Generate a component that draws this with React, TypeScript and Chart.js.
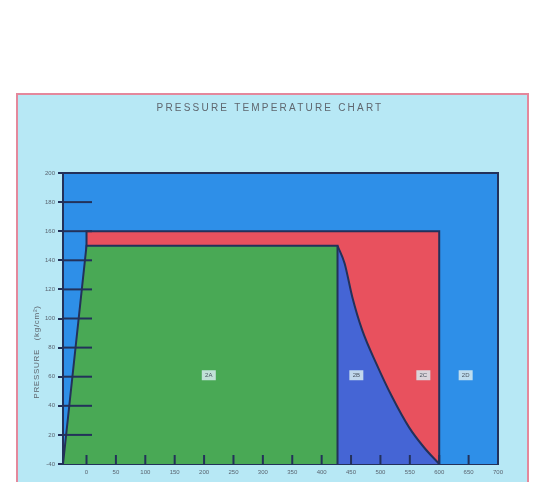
import React, { useEffect, useRef } from "react";
import { Chart, registerables } from "chart.js";

Chart.register(...registerables);

// ---- data ----
const chartTitle = "PRESSURE TEMPERATURE CHART";
const yAxisTitle = "PRESSURE   (kg/cm²)";
const xTickValues = [0, 50, 100, 150, 200, 250, 300, 350, 400, 450, 500, 550, 600, 650, 700];
const yTickValues = [0, 20, 40, 60, 80, 100, 120, 140, 160, 180, 200];
const yTickLabels = ["-40", "20", "40", "60", "80", "100", "120", "140", "160", "180", "200"];

// region outlines (temperature, pressure)
const region2DX = [-40, -40, 700, 700];
const region2DY = [0, 200, 200, 0];
const region2CX = [0, 0, 600, 600];
const region2CY = [0, 160, 160, 0];
const region2BX = [427, 439, 452, 469, 493, 520, 549, 575, 600];
const region2BY = [150, 138, 115, 92, 69, 46, 25, 11, 0];
const region2AX = [-40, 0, 427, 427];
const region2AY = [0, 150, 150, 0];

const regionNames = ["2A", "2B", "2C", "2D"];
const regionLabelX = [208, 459, 573, 645];
const regionLabelY = [61, 61, 61, 61];

const pts = (xs: number[], ys: number[]) => xs.map((x, i) => ({ x, y: ys[i] }));

const EDGE = "#23315a";
const FONT = "'Liberation Sans', Arial, sans-serif";

export default function App() {
  const ref = useRef<HTMLCanvasElement | null>(null);

  useEffect(() => {
    if (!ref.current) return;

    const decor = {
      id: "decor",
      afterDatasetsDraw(chart: any) {
        const { ctx, chartArea, scales } = chart;
        const xs = scales.x;
        const ys = scales.y;
        ctx.save();
        ctx.strokeStyle = EDGE;
        ctx.lineWidth = 2;
        for (const v of yTickValues) {
          if (v === 0 || v === 200) continue;
          const py = ys.getPixelForValue(v);
          ctx.beginPath();
          ctx.moveTo(chartArea.left, py);
          ctx.lineTo(chartArea.left + 29, py);
          ctx.stroke();
        }
        for (const v of xTickValues) {
          if (v >= 700) continue;
          const px = xs.getPixelForValue(v);
          ctx.beginPath();
          ctx.moveTo(px, chartArea.bottom);
          ctx.lineTo(px, chartArea.bottom - 9);
          ctx.stroke();
        }
        ctx.font = `6px ${FONT}`;
        ctx.textAlign = "center";
        ctx.textBaseline = "middle";
        regionNames.forEach((name, i) => {
          const px = xs.getPixelForValue(regionLabelX[i]);
          const py = ys.getPixelForValue(regionLabelY[i]);
          ctx.fillStyle = "rgba(215,235,240,0.85)";
          ctx.fillRect(px - 7, py - 5, 14, 10);
          ctx.fillStyle = "#4a5560";
          ctx.fillText(name, px, py);
        });
        ctx.restore();
      },
      afterDraw(chart: any) {
        const { ctx, chartArea } = chart;
        ctx.save();
        ctx.fillStyle = "#5f666e";
        ctx.font = `10px ${FONT}`;
        (ctx as any).letterSpacing = "2.2px";
        ctx.textAlign = "center";
        ctx.textBaseline = "middle";
        ctx.fillText(chartTitle, 270, 108);
        ctx.translate(37, chartArea.bottom - 112);
        ctx.rotate(-Math.PI / 2);
        ctx.font = `8px ${FONT}`;
        (ctx as any).letterSpacing = "0.7px";
        ctx.fillText(yAxisTitle, 0, 0);
        ctx.restore();
      },
    };

    const mk = (data: any[], color: string, order: number) => ({
      data,
      backgroundColor: color,
      borderColor: EDGE,
      borderWidth: 2,
      pointRadius: 0,
      fill: "origin",
      tension: 0,
      showLine: true,
      clip: 4,
      order,
    });

    const chart = new Chart(ref.current, {
      type: "scatter",
      data: {
        datasets: [
          mk(pts(region2AX, region2AY), "#49a955", 1),
          { ...mk(pts(region2BX, region2BY), "#4565d5", 2), cubicInterpolationMode: "monotone", tension: 0.4 },
          mk(pts(region2CX, region2CY), "#e8515e", 3),
          mk(pts(region2DX, region2DY), "#2e8fe8", 4),
        ] as any,
      },
      options: {
        animation: false,
        responsive: false,
        events: [],
        layout: { padding: { left: 0, right: 41, top: 173, bottom: 0 } },
        plugins: { legend: { display: false }, tooltip: { enabled: false }, title: { display: false } },
        scales: {
          x: {
            type: "linear",
            min: -40,
            max: 700,
            afterBuildTicks: (s: any) => {
              s.ticks = xTickValues.map((v) => ({ value: v }));
            },
            afterFit: (s: any) => {
              s.height = 18;
            },
            grid: { display: true, drawOnChartArea: false, drawTicks: false },
            border: { color: EDGE, width: 2 },
            ticks: {
              padding: 5,
              color: "#5a6470",
              font: { size: 6, family: FONT },
              maxRotation: 0,
              autoSkip: false,
              callback: (v: any) => String(v),
            },
          },
          y: {
            type: "linear",
            min: 0,
            max: 200,
            afterBuildTicks: (s: any) => {
              s.ticks = yTickValues.map((v) => ({ value: v }));
            },
            afterFit: (s: any) => {
              s.width = 63;
            },
            grid: { display: true, drawOnChartArea: false, drawTicks: true, tickLength: 5, color: EDGE, lineWidth: 2 },
            border: { color: EDGE, width: 2 },
            ticks: {
              padding: 3,
              color: "#5a6470",
              font: { size: 6, family: FONT },
              autoSkip: false,
              callback: (v: any) => {
                const i = yTickValues.indexOf(Number(v));
                return i >= 0 ? yTickLabels[i] : "";
              },
            },
          },
        },
      },
      plugins: [decor],
    });
    return () => chart.destroy();
  }, []);

  return (
    <div style={{ position: "fixed", left: 0, top: 0, width: 539, height: 482, background: "#ffffff", overflow: "hidden" }}>
      <div
        style={{
          position: "absolute",
          left: 16,
          top: 93,
          width: 509,
          height: 420,
          background: "#b7e8f5",
          border: "2px solid #e4889c",
        }}
      />
      <canvas ref={ref} width={539} height={482} style={{ position: "absolute", left: 0, top: 0 }} />
    </div>
  );
}
